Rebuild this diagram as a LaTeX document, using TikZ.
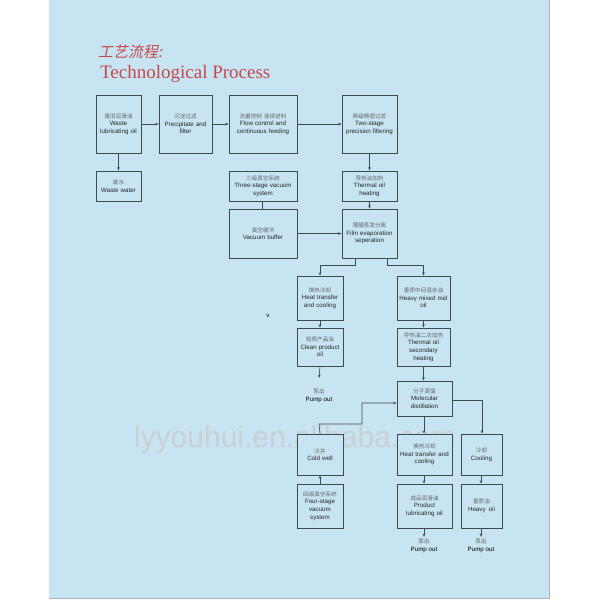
\documentclass[tikz,border=0pt]{standalone}
\usepackage{fontspec}
\setmainfont{Liberation Sans}
\newfontfamily\serifen{Liberation Serif}
\newfontfamily\cjk{Noto Sans CJK SC}
\usetikzlibrary{arrows.meta}
\definecolor{bgblue}{HTML}{C6E4F2}
\definecolor{ttlred}{HTML}{C8484A}
\definecolor{lnc}{HTML}{404850}
\tikzset{
  box/.style={draw=lnc,line width=0.7pt,fill=bgblue,align=center,inner sep=1pt,font=\fontsize{6.2}{7.6}\selectfont,text=black!85},
  conn/.style={draw=lnc,line width=0.6pt},
  arr/.style={conn,-{Stealth[length=3.5pt,width=2.5pt]}}
}
\newcommand{\zh}[1]{{\cjk\color{black!60}\fontsize{5.6}{7.6}\selectfont #1}}
\newcommand{\bx}[6]{%
  \pgfmathsetmacro{\bw}{#4-#2}\pgfmathsetmacro{\bh}{#5-#3}%
  \pgfmathsetmacro{\cx}{(#2+#4)/2}\pgfmathsetmacro{\cy}{(#3+#5)/2}%
  \node[box,minimum width=\bw pt,minimum height=\bh pt,text width=\bw pt-2pt] (#1) at (\cx,\cy) {#6};}
\begin{document}
\begin{tikzpicture}[x=1pt,y=-1pt]
\useasboundingbox (0,0) rectangle (600,600);
\fill[white] (0,0) rectangle (600,600);
\fill[bgblue] (49,0) rectangle (549,598);
\draw[black!30,line width=0.8pt] (549,0) -- (549,598) -- (49,598);
\node[anchor=west,text=ttlred,inner sep=0,xslant=0.2] (t1) at (99,52) {\cjk\fontsize{15}{15}\selectfont 工艺流程:};
\node[anchor=west,text=ttlred,inner sep=0] (t2) at (100,74) {\serifen\fontsize{19}{19}\selectfont Technological Process};
% watermark
\node[text=black!20,opacity=0.8,inner sep=0] (wm) at (295,440) {\fontsize{30}{30}\selectfont lyyouhui.en.alibaba.com};
\bx{wo}{96}{95}{141}{153}{\zh{废旧润滑油}\\Waste\\lubricating oil}
\bx{pf}{159}{95}{212}{153}{\zh{沉淀过滤}\\Precipitate and\\filter}
\bx{fc}{229}{95}{297}{153}{\zh{流量控制 连续进料}\\Flow control and\\continuous feeding}
\bx{ts}{342}{95}{397}{153}{\zh{两级精密过滤}\\Two-stage\\precision filtering}
\bx{ww}{96}{171}{141}{201}{\zh{废水}\\Waste water}
\bx{tv}{229}{171}{297}{201}{\zh{三级真空系统}\\Three-stage vacuum\\system}
\bx{th}{342}{171}{397}{201}{\zh{导热油加热}\\Thermal oil\\heating}
\bx{vb}{229}{209}{297}{258}{\zh{真空缓冲}\\Vacuum buffer}
\bx{fe}{342}{209}{397}{258}{\zh{薄膜蒸发分离}\\Film evaporation\\seperation}
\bx{hc}{297}{276}{343}{320}{\zh{换热冷却}\\Heat transfer\\and cooling}
\bx{hm}{397}{276}{450}{320}{\zh{重质中间混合油}\\Heavy mixed mid\\oil}
\bx{cp}{297}{328}{343}{366}{\zh{轻质产品油}\\Clean product\\oil}
\bx{ts2}{397}{328}{450}{366}{\zh{导热油二次加热}\\Thermal oil\\secondary\\heating}
\bx{md}{397}{381}{452}{416}{\zh{分子蒸馏}\\Molecular\\distillation}
\bx{cw}{297}{434}{343}{475}{\zh{冷井}\\Cold well}
\bx{ht2}{397}{434}{452}{475}{\zh{换热冷却}\\Heat transfer and\\cooling}
\bx{co}{461}{434}{502}{475}{\zh{冷却}\\Cooling}
\bx{fv}{297}{484}{343}{528}{\zh{四级真空系统}\\Four-stage\\vacuum\\system}
\bx{pl}{397}{484}{452}{528}{\zh{成品润滑油}\\Product\\lubricating oil}
\bx{ho}{461}{484}{502}{528}{\zh{重质油}\\Heavy\enspace oil}
\node[font=\fontsize{6.2}{7.6}\selectfont,inner sep=0] (v) at (268,316) {v};
\node[font=\fontsize{6.2}{7.6}\selectfont,align=center,inner sep=0] (p1) at (319,396) {\zh{泵出}\\Pump out};
\node[font=\fontsize{6.2}{7.6}\selectfont,align=center,inner sep=0] (p2) at (424,546) {\zh{泵出}\\Pump out};
\node[font=\fontsize{6.2}{7.6}\selectfont,align=center,inner sep=0] (p3) at (481,546) {\zh{泵出}\\Pump out};
\coordinate (e1) at (319,378);
\coordinate (e2) at (424,537);
\coordinate (e3) at (481,537);
% connectors
\draw[arr] (wo) -- (pf);
\draw[arr] (pf) -- (fc);
\draw[arr] (fc) -- (ts);
\draw[arr] (wo) -- (ww);
\draw[arr] (ts) -- (th);
\draw[arr] (th) -- (fe);
\draw[conn] (tv.south -| 262,0) -- (vb.north -| 262,0);
\draw[arr] (vb) -- (fe);
\draw[arr] (fe.south -| 355,0) -- (355,265) -| (hc.north);
\draw[arr] (fe.south -| 387,0) -- (387,265) -| (hm.north);
\draw[arr] (hc) -- (cp);
\draw[arr] (cp.south) -- (e1);
\draw[arr] (hm) -- (ts2);
\draw[arr] (ts2) -- (md.north -| ts2.south);
\draw[arr] (cw.north) -- (319,424) -- (362,424) -- (362,403) -- (md.west |- 0,403);
\draw[arr] (md.south -| 424,0) -- (ht2.north -| 424,0);
\draw[arr] (md.east |- 0,400) -- (482,400) -- (co.north -| 482,0);
\draw[arr] (fv) -- (cw);
\draw[arr] (ht2.south -| 424,0) -- (pl.north -| 424,0);
\draw[arr] (co.south -| 481,0) -- (ho.north -| 481,0);
\draw[arr] (pl.south -| 424,0) -- (e2);
\draw[arr] (ho.south -| 481,0) -- (e3);
\end{tikzpicture}
\end{document}
